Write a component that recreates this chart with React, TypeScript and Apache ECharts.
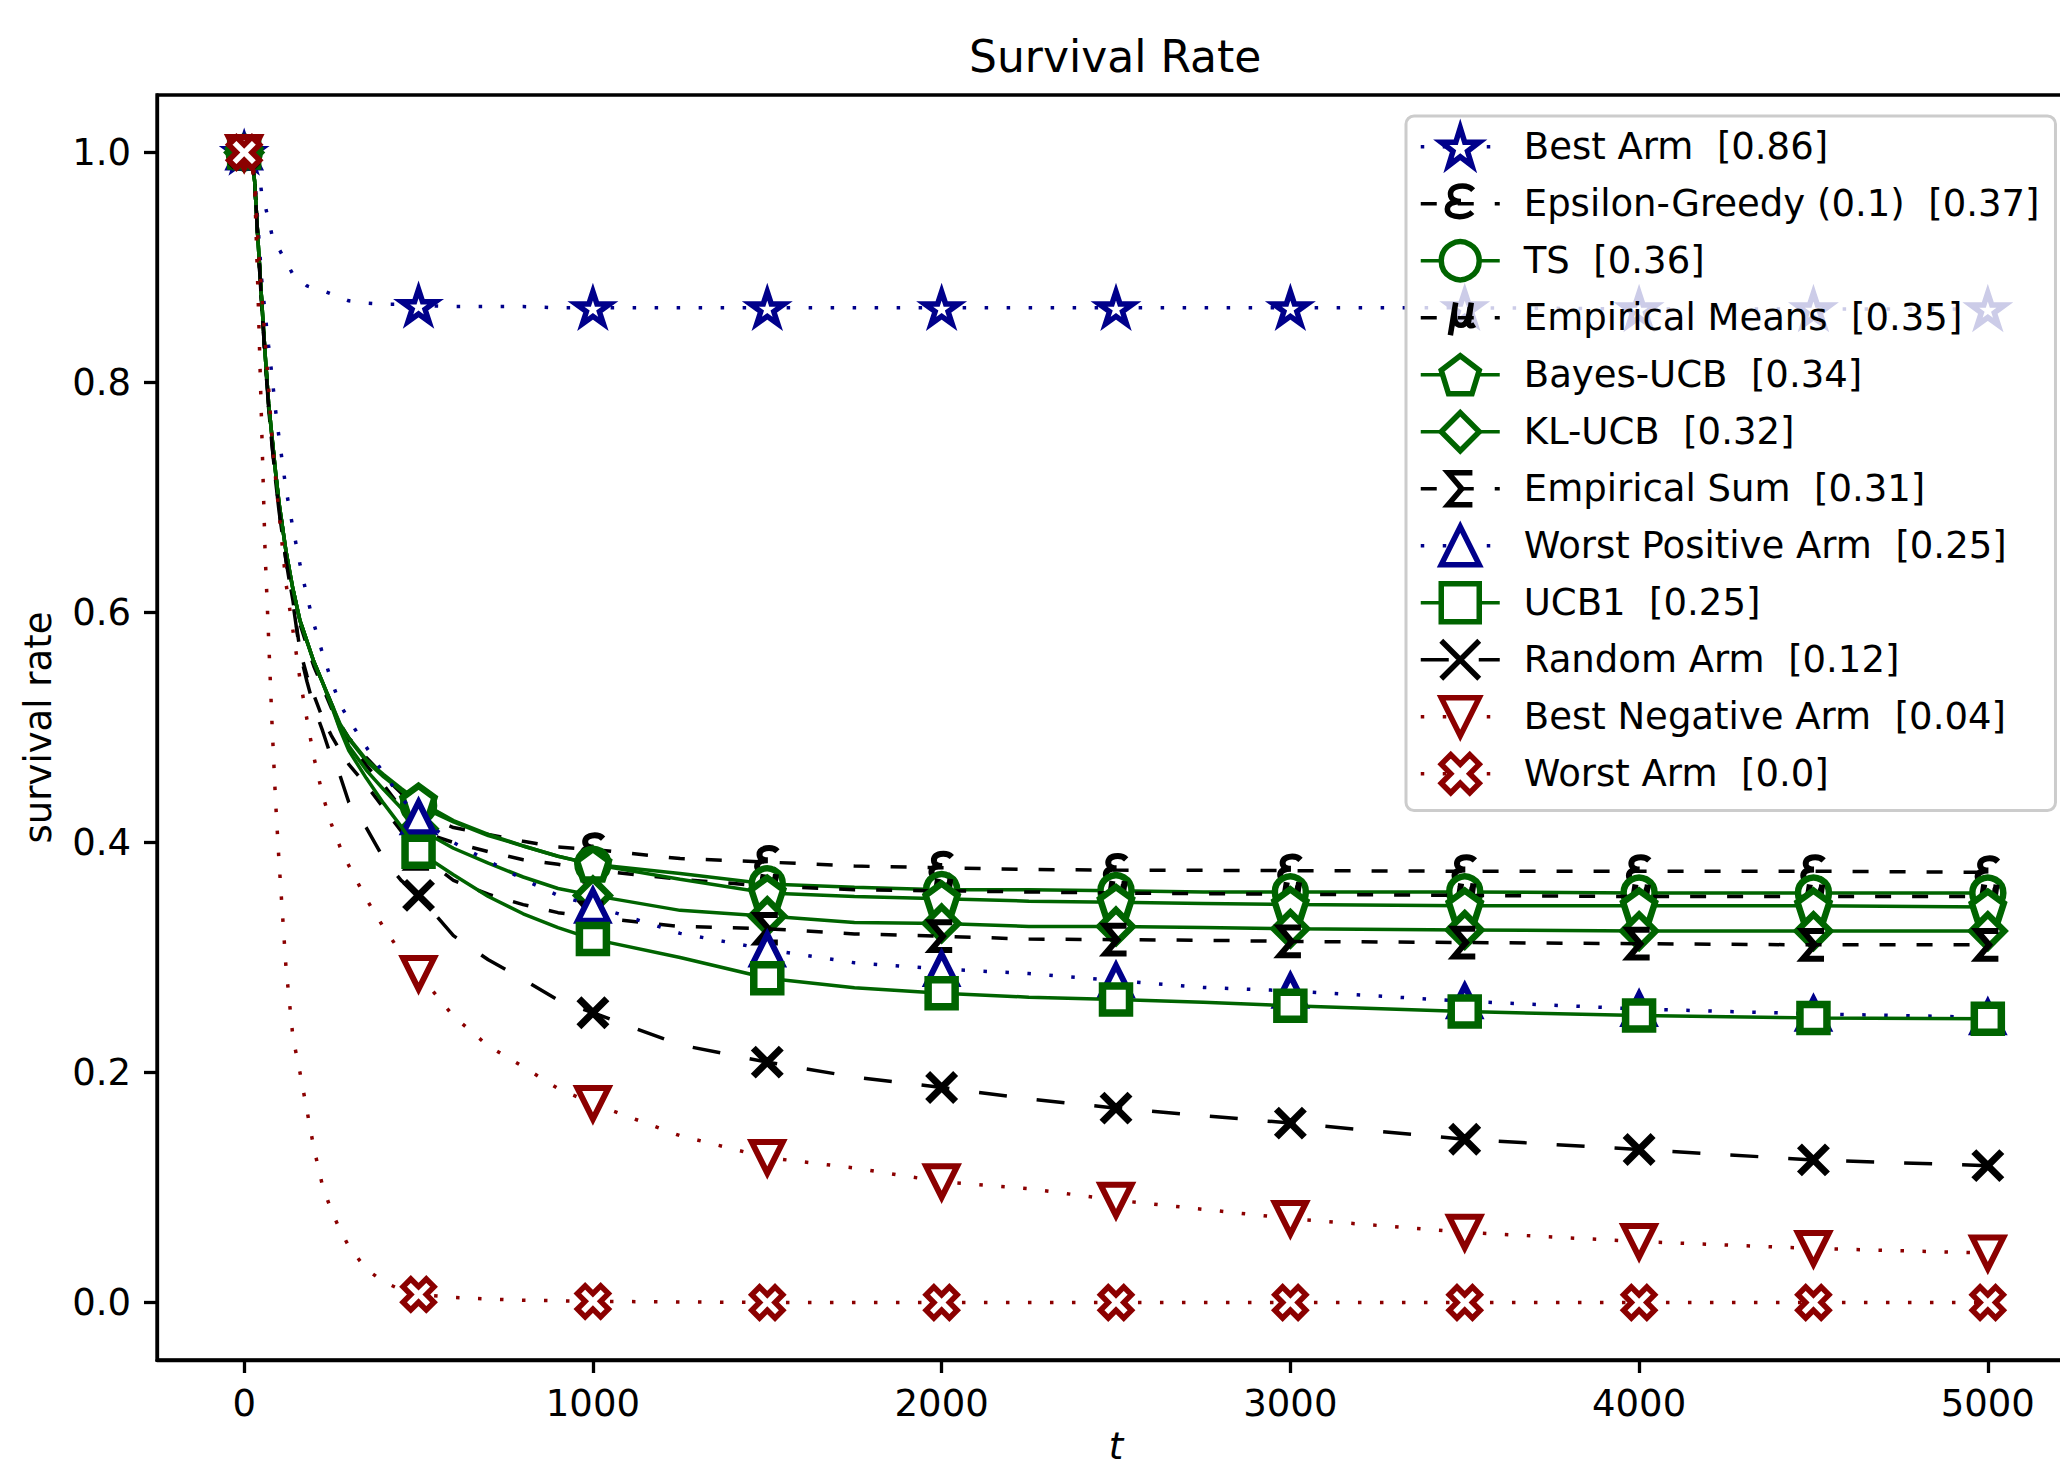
import React, { useEffect, useRef } from "react";
import * as echarts from "echarts";

const T = [0, 20, 30, 40, 50, 60, 70, 80, 90, 100, 120, 140, 160, 180, 200, 225, 250, 275, 300, 350, 400, 450, 500, 600, 700, 800, 900, 1000, 1250, 1500, 1750, 2000, 2250, 2500, 2750, 3000, 3500, 4000, 4500, 5000];

const bestArm = [1.0, 1.0, 0.995, 0.988, 0.965, 0.954, 0.941, 0.928, 0.922, 0.916, 0.905, 0.894, 0.889, 0.884, 0.882, 0.88, 0.877, 0.874, 0.871, 0.869, 0.868, 0.868, 0.867, 0.866, 0.866, 0.866, 0.865, 0.865, 0.865, 0.865, 0.865, 0.865, 0.865, 0.865, 0.865, 0.865, 0.865, 0.864, 0.864, 0.864];
const epsGreedy = [1.0, 0.998, 0.975, 0.922, 0.872, 0.825, 0.782, 0.752, 0.722, 0.695, 0.653, 0.62, 0.593, 0.575, 0.557, 0.539, 0.521, 0.503, 0.491, 0.474, 0.458, 0.443, 0.425, 0.413, 0.407, 0.401, 0.396, 0.394, 0.386, 0.383, 0.3795, 0.378, 0.3765, 0.376, 0.3758, 0.3755, 0.375, 0.375, 0.375, 0.374];
const ts = [1.0, 0.998, 0.975, 0.922, 0.872, 0.825, 0.782, 0.752, 0.722, 0.695, 0.653, 0.62, 0.593, 0.575, 0.557, 0.539, 0.521, 0.502, 0.49, 0.471, 0.457, 0.445, 0.432, 0.418, 0.406, 0.397, 0.388, 0.381, 0.373, 0.364, 0.361, 0.359, 0.359, 0.358, 0.357, 0.357, 0.357, 0.356, 0.356, 0.356];
const empMeans = [1.0, 0.998, 0.975, 0.922, 0.871, 0.824, 0.781, 0.75, 0.72, 0.693, 0.651, 0.617, 0.59, 0.571, 0.553, 0.535, 0.517, 0.5, 0.487, 0.467, 0.45, 0.43, 0.41, 0.4, 0.392, 0.385, 0.381, 0.376, 0.368, 0.362, 0.359, 0.358, 0.357, 0.356, 0.3555, 0.355, 0.354, 0.353, 0.353, 0.353];
const bayesUcb = [1.0, 0.998, 0.975, 0.922, 0.872, 0.825, 0.782, 0.752, 0.722, 0.695, 0.653, 0.62, 0.593, 0.575, 0.557, 0.539, 0.521, 0.503, 0.491, 0.472, 0.459, 0.447, 0.436, 0.419, 0.407, 0.397, 0.388, 0.381, 0.368, 0.356, 0.353, 0.351, 0.349, 0.348, 0.347, 0.346, 0.345, 0.345, 0.345, 0.344];
const klUcb = [1.0, 0.998, 0.975, 0.922, 0.872, 0.825, 0.782, 0.752, 0.722, 0.695, 0.653, 0.62, 0.593, 0.575, 0.557, 0.539, 0.52, 0.499, 0.484, 0.463, 0.446, 0.43, 0.412, 0.395, 0.382, 0.37, 0.36, 0.354, 0.341, 0.336, 0.3305, 0.3296, 0.327, 0.327, 0.326, 0.325, 0.324, 0.323, 0.323, 0.323];
const empSum = [1.0, 0.998, 0.975, 0.92, 0.868, 0.822, 0.778, 0.746, 0.715, 0.688, 0.645, 0.61, 0.567, 0.545, 0.528, 0.508, 0.493, 0.48, 0.468, 0.45, 0.43, 0.41, 0.39, 0.367, 0.355, 0.346, 0.339, 0.335, 0.327, 0.325, 0.3205, 0.3185, 0.316, 0.3155, 0.315, 0.314, 0.313, 0.312, 0.311, 0.311];
const worstPos = [1.0, 0.998, 0.98, 0.935, 0.89, 0.86, 0.832, 0.805, 0.776, 0.752, 0.707, 0.673, 0.642, 0.614, 0.59, 0.564, 0.541, 0.52, 0.507, 0.483, 0.46, 0.439, 0.422, 0.4, 0.384, 0.368, 0.354, 0.345, 0.321, 0.307, 0.2954, 0.29, 0.286, 0.28, 0.274, 0.271, 0.262, 0.2552, 0.251, 0.248];
const ucb1 = [1.0, 0.998, 0.975, 0.922, 0.872, 0.825, 0.782, 0.752, 0.722, 0.695, 0.653, 0.62, 0.593, 0.575, 0.557, 0.539, 0.519, 0.498, 0.48, 0.456, 0.434, 0.414, 0.392, 0.372, 0.353, 0.338, 0.326, 0.316, 0.3, 0.282, 0.2737, 0.269, 0.2655, 0.2635, 0.261, 0.258, 0.253, 0.2496, 0.2475, 0.2467];
const randomArm = [1.0, 0.998, 0.975, 0.92, 0.868, 0.822, 0.778, 0.745, 0.715, 0.688, 0.645, 0.608, 0.565, 0.54, 0.518, 0.497, 0.474, 0.458, 0.435, 0.413, 0.386, 0.367, 0.354, 0.319, 0.298, 0.281, 0.263, 0.252, 0.224, 0.209, 0.196, 0.187, 0.177, 0.169, 0.1625, 0.156, 0.142, 0.133, 0.124, 0.119];
const bestNeg = [1.0, 0.998, 0.98, 0.92, 0.879, 0.837, 0.796, 0.75, 0.717, 0.686, 0.625, 0.584, 0.542, 0.507, 0.474, 0.441, 0.416, 0.396, 0.38, 0.351, 0.326, 0.304, 0.286, 0.249, 0.223, 0.205, 0.186, 0.173, 0.145, 0.126, 0.117, 0.105, 0.099, 0.089, 0.081, 0.073, 0.061, 0.053, 0.047, 0.043];
const worstArm = [1.0, 0.995, 0.97, 0.874, 0.763, 0.652, 0.578, 0.502, 0.436, 0.383, 0.291, 0.23, 0.2, 0.167, 0.134, 0.101, 0.08, 0.063, 0.049, 0.029, 0.018, 0.011, 0.007, 0.0045, 0.003, 0.002, 0.0015, 0.001, 0.0005, 0, 0, 0, 0, 0, 0, 0, 0, 0, 0, 0];

const SERIES_NAMES = [
  "Best Arm  [0.86]",
  "Epsilon-Greedy (0.1)  [0.37]",
  "TS  [0.36]",
  "Empirical Means  [0.35]",
  "Bayes-UCB  [0.34]",
  "KL-UCB  [0.32]",
  "Empirical Sum  [0.31]",
  "Worst Positive Arm  [0.25]",
  "UCB1  [0.25]",
  "Random Arm  [0.12]",
  "Best Negative Arm  [0.04]",
  "Worst Arm  [0.0]",
];

const X_TICKS = [0, 1000, 2000, 3000, 4000, 5000];
const Y_TICKS = [0, 0.2, 0.4, 0.6, 0.8, 1.0];
const MARK_EVERY = 500;

const NAVY = "#00008b";
const DGREEN = "#006400";
const DRED = "#8b0000";
const BLACK = "#000000";
const FONT = "DejaVu Sans";

const DOTTED = [3.5, 18.5];
const DASHED = [16, 21];
const LONGDASH = [28, 30];

const STAR = "path://M50 0 L61.23 34.55 L97.55 34.55 L68.16 55.9 L79.39 90.45 L50 69.1 L20.61 90.45 L31.84 55.9 L2.45 34.55 L38.77 34.55 Z";
const PENTAGON = "path://M50 0 L97.55 34.55 L79.39 90.45 L20.61 90.45 L2.45 34.55 Z";
const TRI_DOWN = "path://M0 0 L100 0 L50 100 Z";
const X_FILLED = "path://M75 0 L100 25 L75 50 L100 75 L75 100 L50 75 L25 100 L0 75 L25 50 L0 25 L25 0 L50 25 Z";
const X_LINES = "path://M0 0 L100 100 M100 0 L0 100";
const SIGMA = "path://M0 0 M100 100 M82 8 L18 8 L54 50 L18 92 L82 92";
const EPS = "path://M0 0 M100 100 M84 14 C74 4 58 2 46 4 C28 7 22 18 25 30 C28 40 38 44 52 44 M52 44 C32 44 16 50 16 64 C16 78 32 84 48 84 C62 84 74 80 82 72";
const MU = "path://M0 0 M100 100 M24 96 L38 10 M36 22 C31 58 38 70 52 70 C66 70 72 56 76 22 M79 10 L72 60 C70 72 78 74 88 68";

type Spec = {
  values: number[];
  color: string;
  dash: number[] | "solid";
  symbol: string;
  size: number;
  fill: string;
  bw: number;
};

const SPECS: Spec[] = [
  { values: bestArm, color: NAVY, dash: DOTTED, symbol: STAR, size: 34, fill: "#ffffff", bw: 5.5 },
  { values: epsGreedy, color: BLACK, dash: DASHED, symbol: EPS, size: 30, fill: "rgba(0,0,0,0)", bw: 6 },
  { values: ts, color: DGREEN, dash: "solid", symbol: "circle", size: 31, fill: "#ffffff", bw: 6.5 },
  { values: empMeans, color: BLACK, dash: DASHED, symbol: MU, size: 30, fill: "rgba(0,0,0,0)", bw: 6 },
  { values: bayesUcb, color: DGREEN, dash: "solid", symbol: PENTAGON, size: 32, fill: "#ffffff", bw: 6.5 },
  { values: klUcb, color: DGREEN, dash: "solid", symbol: "diamond", size: 33, fill: "#ffffff", bw: 6.5 },
  { values: empSum, color: BLACK, dash: DASHED, symbol: SIGMA, size: 33, fill: "rgba(0,0,0,0)", bw: 6 },
  { values: worstPos, color: NAVY, dash: DOTTED, symbol: "triangle", size: 30, fill: "#ffffff", bw: 6 },
  { values: ucb1, color: DGREEN, dash: "solid", symbol: "rect", size: 27, fill: "#ffffff", bw: 7.5 },
  { values: randomArm, color: BLACK, dash: LONGDASH, symbol: X_LINES, size: 28, fill: BLACK, bw: 7 },
  { values: bestNeg, color: DRED, dash: DOTTED, symbol: TRI_DOWN, size: 31, fill: "#ffffff", bw: 6 },
  { values: worstArm, color: DRED, dash: DOTTED, symbol: X_FILLED, size: 31, fill: "#ffffff", bw: 5.5 },
];

const LEGEND_BW = 5.5;

function buildSeries() {
  return SPECS.map((s, idx) => ({
    type: "line",
    name: SERIES_NAMES[idx],
    z: 3 + idx,
    data: T.map((t, i) =>
      t % MARK_EVERY === 0 ? [t, s.values[i]] : { value: [t, s.values[i]], symbol: "none" }
    ),
    symbol: s.symbol,
    symbolSize: s.size,
    symbolKeepAspect: true,
    showSymbol: true,
    showAllSymbol: true,
    lineStyle: { color: s.color, width: 3.5, type: s.dash, cap: "butt" },
    itemStyle: { color: s.fill, borderColor: s.color, borderWidth: s.bw, opacity: 1 },
    emphasis: { disabled: true },
    silent: true,
    clip: true,
  }));
}

export default function App() {
  const ref = useRef<HTMLDivElement>(null);
  useEffect(() => {
    if (!ref.current) return;
    const chart = echarts.init(ref.current, null, { renderer: "svg" });
    chart.setOption({
      animation: false,
      backgroundColor: "#ffffff",
      textStyle: { fontFamily: FONT },
      title: {
        text: "Survival Rate",
        left: 969,
        top: 34,
        padding: 0,
        textStyle: { fontSize: 44, fontWeight: "normal", color: BLACK, fontFamily: FONT },
      },
      grid: {
        left: 157,
        top: 95,
        width: 1918,
        height: 1265,
        containLabel: false,
        outerBoundsMode: "none",
        show: true,
        borderColor: BLACK,
        borderWidth: 3.3,
        backgroundColor: "rgba(0,0,0,0)",
      },
      legend: {
        orient: "vertical",
        left: 1406,
        top: 116,
        z: 100,
        padding: [9, 16, 15, 13],
        itemWidth: 79,
        itemHeight: 47.5,
        itemGap: 13.5,
        selectedMode: false,
        backgroundColor: "rgba(255,255,255,0.8)",
        borderColor: "#cccccc",
        borderWidth: 3,
        borderRadius: 8,
        textStyle: { fontSize: 37, color: BLACK, fontFamily: FONT, padding: [0, 0, 0, 19] },
        data: SERIES_NAMES.map((n) => ({
          name: n,
          itemStyle: { borderWidth: LEGEND_BW },
          lineStyle: { width: 3.5 },
        })),
      },
      xAxis: {
        type: "value",
        min: -250,
        max: 5250,
        name: "t",
        nameLocation: "middle",
        nameGap: 68,
        nameTextStyle: { fontSize: 37, fontStyle: "italic", color: BLACK, fontFamily: FONT },
        axisLine: { show: true, onZero: false, lineStyle: { color: BLACK, width: 3.3 } },
        axisTick: { show: true, customValues: X_TICKS, length: 13, lineStyle: { color: BLACK, width: 3.3 } },
        axisLabel: {
          customValues: X_TICKS,
          fontSize: 37,
          color: BLACK,
          fontFamily: FONT,
          margin: 25,
          formatter: (v: number) => String(v),
        },
        splitLine: { show: false },
      },
      yAxis: {
        type: "value",
        min: -0.05,
        max: 1.05,
        name: "survival rate",
        nameLocation: "middle",
        nameGap: 100,
        nameTextStyle: { fontSize: 37, color: BLACK, fontFamily: FONT },
        axisLine: { show: true, onZero: false, lineStyle: { color: BLACK, width: 3.3 } },
        axisTick: { show: true, customValues: Y_TICKS, length: 13, lineStyle: { color: BLACK, width: 3.3 } },
        axisLabel: {
          customValues: Y_TICKS,
          fontSize: 37,
          color: BLACK,
          fontFamily: FONT,
          margin: 26,
          formatter: (v: number) => v.toFixed(1),
        },
        splitLine: { show: false },
      },
      series: buildSeries(),
    });
    return () => chart.dispose();
  }, []);
  return (
    <div
      ref={ref}
      style={{ position: "fixed", left: 0, top: 0, width: 2060, height: 1467, background: "#fff" }}
    />
  );
}
